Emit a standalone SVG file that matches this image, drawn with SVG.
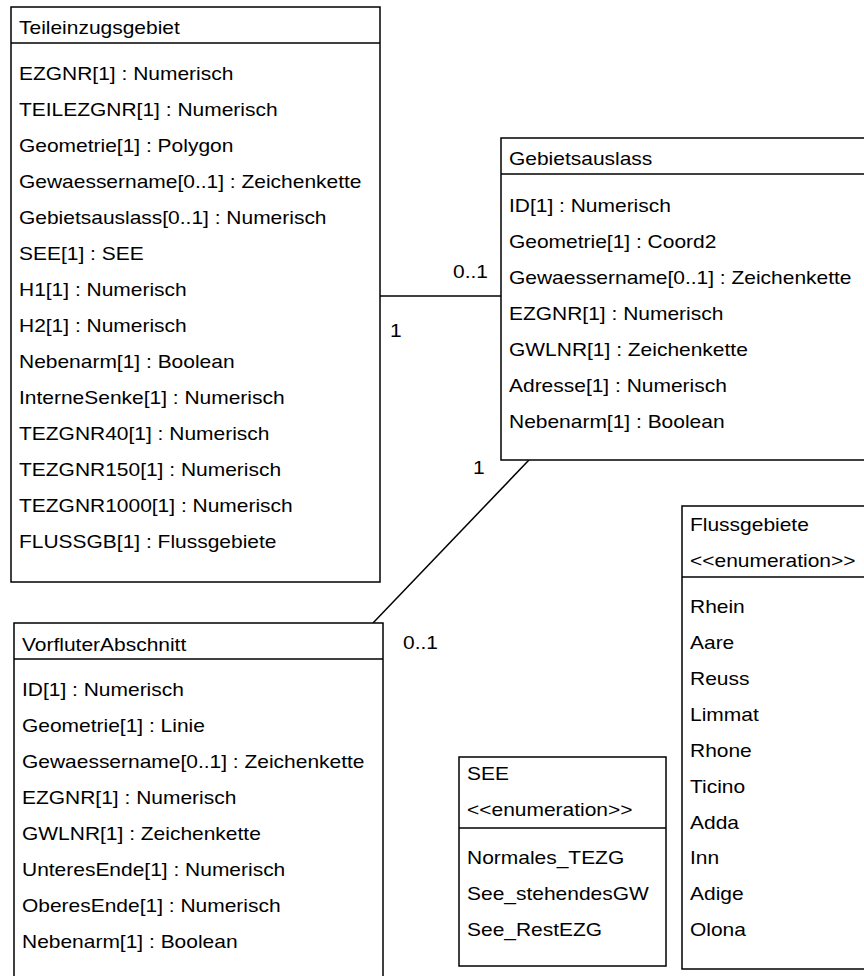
<svg xmlns="http://www.w3.org/2000/svg" width="864" height="976" viewBox="0 0 864 976">
<style>
.box{fill:#fff;stroke:#000;stroke-width:1.5}
.sep{stroke:#000;stroke-width:1.5}
.con{stroke:#000;stroke-width:1.5;fill:none}
text{font-family:"Liberation Sans",Arial,sans-serif;font-size:18px;fill:#000}
</style>
<rect width="864" height="976" fill="#fff"/>
<g id="connectors">
<line class="con" x1="380" y1="296" x2="501" y2="296"/>
<line class="con" x1="529" y1="460" x2="373" y2="623"/>
<text transform="translate(488,278) scale(1.165,1)" text-anchor="end">0..1</text>
<text transform="translate(390,337) scale(1.165,1)">1</text>
<text transform="translate(473,474) scale(1.165,1)">1</text>
<text transform="translate(403,649) scale(1.165,1)">0..1</text>
</g>
<g id="Teileinzugsgebiet">
<rect class="box" x="11" y="7" width="369" height="575"/>
<line class="sep" x1="11" y1="43" x2="380" y2="43"/>
<g transform="translate(19,0) scale(1.165,1)">
<text y="34">Teileinzugsgebiet</text>
<text y="80">EZGNR[1] : Numerisch</text>
<text y="116">TEILEZGNR[1] : Numerisch</text>
<text y="152">Geometrie[1] : Polygon</text>
<text y="188">Gewaessername[0..1] : Zeichenkette</text>
<text y="224">Gebietsauslass[0..1] : Numerisch</text>
<text y="260">SEE[1] : SEE</text>
<text y="296">H1[1] : Numerisch</text>
<text y="332">H2[1] : Numerisch</text>
<text y="368">Nebenarm[1] : Boolean</text>
<text y="404">InterneSenke[1] : Numerisch</text>
<text y="440">TEZGNR40[1] : Numerisch</text>
<text y="476">TEZGNR150[1] : Numerisch</text>
<text y="512">TEZGNR1000[1] : Numerisch</text>
<text y="548">FLUSSGB[1] : Flussgebiete</text>
</g>
</g>
<g id="Gebietsauslass">
<rect class="box" x="501" y="138" width="380" height="322"/>
<line class="sep" x1="501" y1="174" x2="870" y2="174"/>
<g transform="translate(509,0) scale(1.165,1)">
<text y="165">Gebietsauslass</text>
<text y="212">ID[1] : Numerisch</text>
<text y="248">Geometrie[1] : Coord2</text>
<text y="284">Gewaessername[0..1] : Zeichenkette</text>
<text y="320">EZGNR[1] : Numerisch</text>
<text y="356">GWLNR[1] : Zeichenkette</text>
<text y="392">Adresse[1] : Numerisch</text>
<text y="428">Nebenarm[1] : Boolean</text>
</g>
</g>
<g id="VorfluterAbschnitt">
<rect class="box" x="14" y="623" width="369" height="370"/>
<line class="sep" x1="14" y1="659" x2="383" y2="659"/>
<g transform="translate(22,0) scale(1.165,1)">
<text y="651">VorfluterAbschnitt</text>
<text y="696">ID[1] : Numerisch</text>
<text y="732">Geometrie[1] : Linie</text>
<text y="768">Gewaessername[0..1] : Zeichenkette</text>
<text y="804">EZGNR[1] : Numerisch</text>
<text y="840">GWLNR[1] : Zeichenkette</text>
<text y="876">UnteresEnde[1] : Numerisch</text>
<text y="912">OberesEnde[1] : Numerisch</text>
<text y="948">Nebenarm[1] : Boolean</text>
</g>
</g>
<g id="SEE">
<rect class="box" x="459" y="757" width="207" height="209"/>
<line class="sep" x1="459" y1="828" x2="666" y2="828"/>
<g transform="translate(467,0) scale(1.165,1)">
<text y="780">SEE</text>
<text y="816">&lt;&lt;enumeration&gt;&gt;</text>
<text y="864">Normales_TEZG</text>
<text y="900">See_stehendesGW</text>
<text y="936">See_RestEZG</text>
</g>
</g>
<g id="Flussgebiete">
<rect class="box" x="682" y="506" width="200" height="463"/>
<line class="sep" x1="682" y1="577" x2="870" y2="577"/>
<g transform="translate(690,0) scale(1.165,1)">
<text y="531">Flussgebiete</text>
<text y="567">&lt;&lt;enumeration&gt;&gt;</text>
<text y="613">Rhein</text>
<text y="649">Aare</text>
<text y="685">Reuss</text>
<text y="721">Limmat</text>
<text y="757">Rhone</text>
<text y="793">Ticino</text>
<text y="829">Adda</text>
<text y="864">Inn</text>
<text y="900">Adige</text>
<text y="936">Olona</text>
</g>
</g>
</svg>
